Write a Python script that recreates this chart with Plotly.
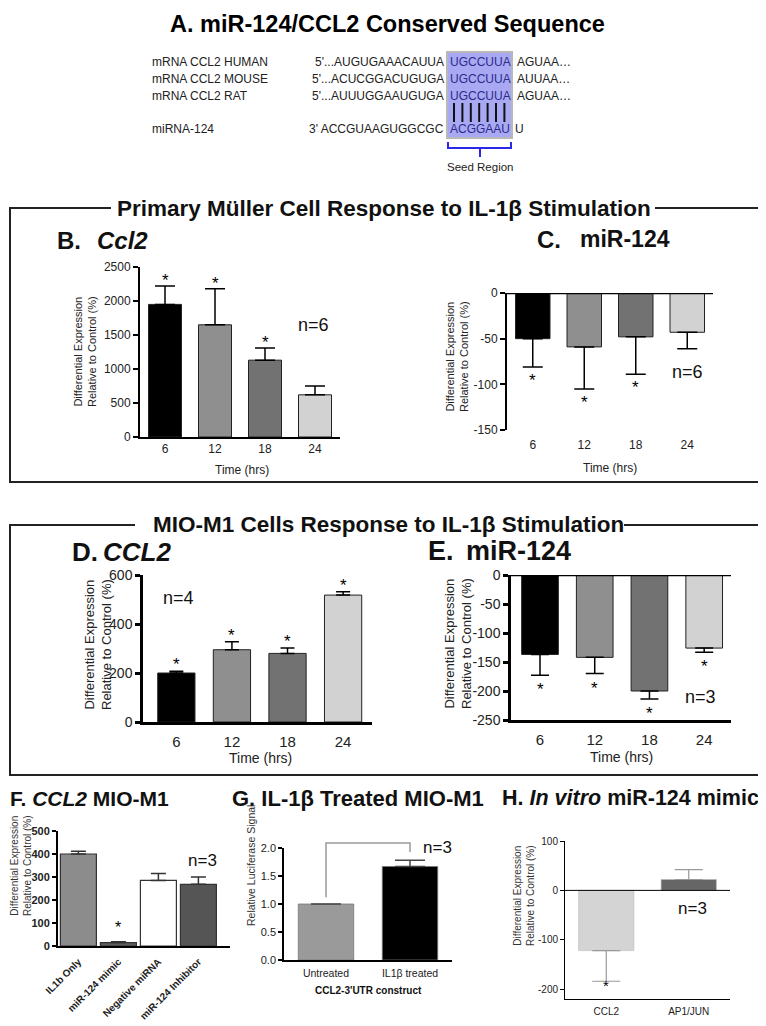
import plotly.graph_objects as go

# reference canvas is 766x1026; the page adds an 8px body margin, so the figure is
# drawn 8px smaller on each axis and every reference pixel is shifted by that margin
REF_W, REF_H = 766, 1026
OFF = 8
W, H = REF_W - OFF, REF_H - OFF

# ---------------- data ----------------
seq_species = ["mRNA CCL2 HUMAN", "mRNA CCL2 MOUSE", "mRNA CCL2 RAT"]
seq_prefix = ["5'...AUGUGAAACAUUA", "5'...ACUCGGACUGUGA", "5'...AUUUGGAAUGUGA"]
seq_seed = ["UGCCUUA", "UGCCUUA", "UGCCUUA"]
seq_suffix = ["AGUAA…", "AUUAA…", "AGUAA…"]
mir_name = "miRNA-124"
mir_prefix = "3' ACCGUAAGUGGCGC"
mir_seed = "ACGGAAU"
mir_suffix = "U"

time_hrs = ["6", "12", "18", "24"]
b_mean = [1950, 1650, 1130, 620]
b_sem = [270, 530, 180, 130]
b_sig = [1, 1, 1, 0]

c_mean = [-50, -59, -48, -43]
c_sem = [31, 46, 41, 18]
c_sig = [1, 1, 1, 0]

d_mean = [200, 295, 280, 518]
d_sem = [7, 33, 22, 14]
d_sig = [1, 1, 1, 1]

e_mean = [-137, -142, -200, -126]
e_sem = [36, 28, 14, 7]
e_sig = [1, 1, 1, 1]

f_labels = ["IL1b Only", "miR-124 mimic", "Negative miRNA", "miR-124 Inhibitor"]
f_mean = [400, 15, 285, 268]
f_sem = [12, 3, 30, 32]
f_sig = [0, 1, 0, 0]

g_labels = ["Untreated", "IL1β treated"]
g_mean = [1.0, 1.67]
g_sem = [0.0, 0.11]

h_labels = ["CCL2", "AP1/JUN"]
h_mean = [-122, 22]
h_sem = [62, 20]
h_sig = [1, 0]

time_colors = ["#000000", "#8f8f8f", "#727272", "#d2d2d2"]
f_colors = ["#8c8c8c", "#5f5f5f", "#ffffff", "#555555"]
g_colors = ["#9a9a9a", "#000000"]
h_colors = ["#d4d4d4", "#666666"]

FONT = "Liberation Sans, Arial, sans-serif"


def X(p):
    return (p - OFF) / W


def Y(p):
    return 1 - (p - OFF) / H


fig = go.Figure()
ann = []
shapes = []


def add_bar(n, cats, mean, sem, colors, width, err_w, err_col="#000", outline="#222", outw=1, errthick=1.5):
    up = [s if m >= 0 else 0 for m, s in zip(mean, sem)]
    dn = [s if m < 0 else 0 for m, s in zip(mean, sem)]
    fig.add_trace(go.Bar(
        x=cats, y=mean, width=width,
        xaxis="x" if n == 1 else f"x{n}", yaxis="y" if n == 1 else f"y{n}",
        marker=dict(color=colors, line=dict(color=outline, width=outw)),
        error_y=dict(type="data", symmetric=False, array=up, arrayminus=dn,
                     color=err_col, thickness=errthick, width=err_w),
        showlegend=False, hoverinfo="skip"))


def stars(n, mean, sem, sig, size=16, shift_up=-5, shift_dn=-2):
    xr = "x" if n == 1 else f"x{n}"
    yr = "y" if n == 1 else f"y{n}"
    for i, (m, s, g) in enumerate(zip(mean, sem, sig)):
        if not g:
            continue
        if m >= 0:
            ann.append(dict(x=i, y=m + s, xref=xr, yref=yr, text="*", showarrow=False,
                            yanchor="bottom", yshift=shift_up, font=dict(size=size, color="#000", family=FONT)))
        else:
            ann.append(dict(x=i, y=m - s, xref=xr, yref=yr, text="*", showarrow=False,
                            yanchor="top", yshift=shift_dn, font=dict(size=size, color="#000", family=FONT)))


def txt(x, y, text, size, xanchor="center", color="#000", angle=0, bold=False, yanchor="middle"):
    if bold:
        text = f"<b>{text}</b>"
    ann.append(dict(x=X(x), y=Y(y), xref="paper", yref="paper", text=text, showarrow=False,
                    xanchor=xanchor, yanchor=yanchor, textangle=angle,
                    font=dict(size=size, color=color, family=FONT)))


def line(x0, y0, x1, y1, w=2, color="#222"):
    shapes.append(dict(type="line", xref="paper", yref="paper", x0=X(x0), y0=Y(y0), x1=X(x1), y1=Y(y1),
                       line=dict(color=color, width=w)))


def axes(n, xd, yd, xrange, yrange, xfont, yfont, lw=2, tl=5, xshowline=True,
         tickvals=None, ticktext=None, xangle=0, xbold=False, ybold=False, xstand=0):
    xk = "xaxis" if n == 1 else f"xaxis{n}"
    yk = "yaxis" if n == 1 else f"yaxis{n}"
    ya = "y" if n == 1 else f"y{n}"
    xa = "x" if n == 1 else f"x{n}"
    xf = dict(size=xfont, color="#222", family=FONT, weight="bold" if xbold else "normal")
    yf = dict(size=yfont, color="#222", family=FONT, weight="bold" if ybold else "normal")
    layout = {}
    layout[xk] = dict(domain=[X(xd[0]), X(xd[1])], anchor=ya, type="category", range=xrange,
                      showline=xshowline, linecolor="#000", linewidth=lw, ticks="",
                      showgrid=False, zeroline=False, tickfont=xf, tickangle=xangle,
                      ticklabelstandoff=xstand, fixedrange=True, automargin=False)
    layout[yk] = dict(domain=[Y(yd[1]), Y(yd[0])], anchor=xa, range=yrange, showline=True,
                      linecolor="#000", linewidth=lw, ticks="outside", ticklen=tl, tickwidth=lw,
                      tickcolor="#000", showgrid=False, zeroline=False, tickfont=yf, fixedrange=True,
                      automargin=False, tickvals=tickvals, ticktext=ticktext)
    fig.update_layout(**layout)


def tv(lo, hi, step):
    vals = list(range(lo, hi + 1, step))
    return vals, [str(v) for v in vals]

# ---------------- Panel A ----------------
txt(387, OFF + 0.5, "A. miR-124/CCL2 Conserved Sequence", 23.5, bold=True, yanchor="top")
shapes.append(dict(type="rect", xref="paper", yref="paper", x0=X(447), x1=X(512), y0=Y(138), y1=Y(52),
                   fillcolor="#a9a9f3", line=dict(color="#b8b8b8", width=2), layer="below"))
row_y = [62.5, 79, 96]
for yy, sp, pre, sd, suf in zip(row_y, seq_species, seq_prefix, seq_seed, seq_suffix):
    txt(150, yy, sp, 12, xanchor="left", color="#222")
    txt(446, yy, pre, 12, xanchor="right", color="#222")
    txt(480, yy, sd, 12, color="#2b2b8a")
    txt(515, yy, suf, 12, xanchor="left", color="#222")
txt(150, 129, mir_name, 12, xanchor="left", color="#222")
txt(446, 129, mir_prefix, 12, xanchor="right", color="#222")
txt(480, 129, mir_seed, 12, color="#2b2b8a")
txt(513, 129, mir_suffix, 12, xanchor="left", color="#222")
for i in range(len(mir_seed)):
    xx = 454 + i * 8.4
    line(xx, 103, xx, 122, w=2, color="#111")
bx = [448, 511, 480]
path = (f"M {X(bx[0])},{Y(142)} L {X(bx[0])},{Y(148)} L {X(bx[1])},{Y(148)} L {X(bx[1])},{Y(142)} "
        f"M {X(bx[2])},{Y(148)} L {X(bx[2])},{Y(157)}")
shapes.append(dict(type="path", xref="paper", yref="paper", path=path, line=dict(color="#2a2ae6", width=2)))
txt(480, 167, "Seed Region", 11.5, color="#222")

# ---------------- section boxes ----------------
txt(384, 208, "Primary Müller Cell Response to IL-1β Stimulation", 22.5, bold=True, color="#111")
line(10, 208, 111, 208); line(655, 208, 761, 208)
line(10, 207, 10, 482); line(761, 207, 761, 482); line(9, 482, 762, 482)

txt(388, 524, "MIO-M1 Cells Response to IL-1β Stimulation", 22.5, bold=True, color="#111")
line(10, 525, 135, 525); line(624, 525, 761, 525)
line(10, 524, 10, 775); line(761, 524, 761, 775); line(9, 775, 762, 775)

# ---------------- B ----------------
v, t = tv(0, 2500, 500)
axes(1, (140, 340), (267, 437), [-0.5, 3.5], [0, 2500], 12, 12, lw=2, tl=5, tickvals=v, ticktext=t)
add_bar(1, time_hrs, b_mean, b_sem, time_colors, 0.66, 10)
stars(1, b_mean, b_sem, b_sig, size=17, shift_up=-6)
txt(55, 240, "B.", 24, xanchor="left", bold=True, color="#111")
txt(95, 240, "<i>Ccl2</i>", 24, xanchor="left", bold=True, color="#111")
txt(85, 352, "Differential Expression<br>Relative to Control (%)", 11, angle=-90, color="#222")
txt(242, 470, "Time (hrs)", 12, color="#222")
txt(313, 325, "n=6", 18, color="#111")

# ---------------- C ----------------
v, t = tv(-150, 0, 50)
axes(2, (507, 713), (293, 430), [-0.5, 3.5], [-150, 0], 12, 12, lw=2, tl=5, xshowline=False,
     tickvals=v, ticktext=t, xstand=6)
add_bar(2, time_hrs, c_mean, c_sem, time_colors, 0.67, 10)
shapes.append(dict(type="line", xref="x2 domain", yref="y2", x0=0, x1=1, y0=0, y1=0,
                   line=dict(color="#000", width=2.5)))
stars(2, c_mean, c_sem, c_sig, size=17, shift_dn=-2)
txt(535, 239, "C.", 24, xanchor="left", bold=True, color="#111")
txt(578, 239, "miR-124", 23, xanchor="left", bold=True, color="#111")
txt(457, 357, "Differential Expression<br>Relative to Control (%)", 11, angle=-90, color="#222")
txt(610, 468, "Time (hrs)", 12, color="#222")
txt(687, 372, "n=6", 18, color="#111")

# ---------------- D ----------------
v, t = tv(0, 600, 200)
axes(3, (143, 372), (575, 722), [-0.6, 3.52], [0, 600], 15, 14, lw=2.5, tl=5,
     tickvals=v, ticktext=t, xstand=4)
add_bar(3, time_hrs, d_mean, d_sem, time_colors, 0.67, 7)
stars(3, d_mean, d_sem, d_sig, size=17, shift_up=-5)
txt(70, 552, "D.", 26, xanchor="left", bold=True, color="#111")
txt(101, 552, "<i>CCL2</i>", 26, xanchor="left", bold=True, color="#111")
txt(98, 645, "Differential Expression<br>Relative to Control (%)", 13, angle=-90, color="#222")
txt(260, 758, "Time (hrs)", 14, color="#222")
txt(178, 598, "n=4", 18, color="#111")

# ---------------- E ----------------
v, t = tv(-250, 0, 50)
axes(4, (511, 731), (575, 720), [-0.53, 3.49], [-250, 0], 15, 14, lw=2.5, tl=5,
     tickvals=v, ticktext=t, xstand=4)
add_bar(4, time_hrs, e_mean, e_sem, time_colors, 0.67, 9)
shapes.append(dict(type="line", xref="x4 domain", yref="y4", x0=0, x1=1, y0=0, y1=0,
                   line=dict(color="#000", width=2.5)))
stars(4, e_mean, e_sem, e_sig, size=17, shift_dn=-3)
txt(426, 551, "E.", 27, xanchor="left", bold=True, color="#111")
txt(464, 551, "miR-124", 27, xanchor="left", bold=True, color="#111")
txt(458, 644, "Differential Expression<br>Relative to Control (%)", 13, angle=-90, color="#222")
txt(621, 757, "Time (hrs)", 14, color="#222")
txt(700, 697, "n=3", 18, color="#111")

# ---------------- F ----------------
v, t = tv(0, 500, 100)
axes(5, (58, 230), (831, 946), [-0.51, 3.79], [0, 500], 10, 11, lw=2, tl=4,
     tickvals=v, ticktext=t, xangle=-45, xbold=True, ybold=True, xstand=4)
add_bar(5, f_labels, f_mean, f_sem, f_colors, 0.9, 7.5, err_col="#333", outline="#333", outw=1.2)
stars(5, f_mean, f_sem, f_sig, size=16, shift_up=4)
txt(8, 798, "F. <i>CCL2</i> MIO-M1", 21, xanchor="left", bold=True, color="#111")
txt(21, 866, "Differential Expression<br>Relative to Control (%)", 10, angle=-90, color="#333")
txt(202, 860, "n=3", 17, color="#111")

# ---------------- G ----------------
g_xd, g_yd, g_xr, g_yr = (284, 452), (848, 960), [-0.5, 1.5], [0, 2]
axes(6, g_xd, g_yd, g_xr, g_yr, 10.5, 11, lw=1.5, tl=4,
     tickvals=[0, 0.5, 1.0, 1.5, 2.0], ticktext=["0.0", "0.5", "1.0", "1.5", "2.0"], xstand=3)
add_bar(6, g_labels, g_mean, g_sem, g_colors, 0.66, 15, err_col="#444", outline="#777", outw=0.8)


def gx(i):
    return g_xd[0] + (i - g_xr[0]) / (g_xr[1] - g_xr[0]) * (g_xd[1] - g_xd[0])


def gy(v):
    return g_yd[1] - (v - g_yr[0]) / (g_yr[1] - g_yr[0]) * (g_yd[1] - g_yd[0])


gtop = 2.09
gpts = [(gx(0), gy(g_mean[0] + 0.12)), (gx(0), gy(gtop)), (gx(1), gy(gtop)),
        (gx(1), gy(g_mean[1] + g_sem[1] + 0.15))]
gpath = "M " + " L ".join(f"{X(a)},{Y(b)}" for a, b in gpts)
shapes.append(dict(type="path", xref="paper", yref="paper", path=gpath, line=dict(color="#999", width=1.5)))
ann.append(dict(x=0.5, y=gtop, xref="x6", yref="y6", text="*", showarrow=False, yanchor="bottom",
                yshift=-5, font=dict(size=15, color="#000", family=FONT)))
txt(230, 798, "G. IL-1β Treated MIO-M1", 22, xanchor="left", bold=True, color="#111")
txt(251, 866, "Relative Luciferase Signal", 10.5, angle=-90, color="#333")
txt(368, 990, "CCL2-3'UTR construct", 10, bold=True, color="#111")
txt(437, 847, "n=3", 17, color="#111")

# ---------------- H ----------------
axes(7, (565, 730), (841, 999), [-0.5, 1.5], [-220, 100], 10, 10, lw=1, tl=4,
     tickvals=[-200, -100, 0, 100], ticktext=["-200", "-100", "0", "100"], xstand=3)
add_bar(7, h_labels, h_mean, h_sem, h_colors, 0.67, 14, err_col="#999", outline="#bbb", outw=0.6, errthick=1.2)
shapes.append(dict(type="line", xref="x7 domain", yref="y7", x0=0, x1=1, y0=0, y1=0,
                   line=dict(color="#000", width=1)))
stars(7, h_mean, h_sem, h_sig, size=15, shift_dn=6)
txt(500, 798, "H. <i>In vitro</i> miR-124 mimic", 21.5, xanchor="left", bold=True, color="#111")
txt(524, 896, "Differential Expression<br>Relative to Control (%)", 10, angle=-90, color="#333")
txt(692, 908, "n=3", 17, color="#111")

fig.update_layout(
    template="none",
    width=W, height=H, margin=dict(l=0, r=0, t=0, b=0, pad=0, autoexpand=False),
    paper_bgcolor="#ffffff", plot_bgcolor="rgba(0,0,0,0)",
    annotations=ann, shapes=shapes, showlegend=False,
    font=dict(family=FONT, color="#222"),
)
fig.write_html("out.html")
